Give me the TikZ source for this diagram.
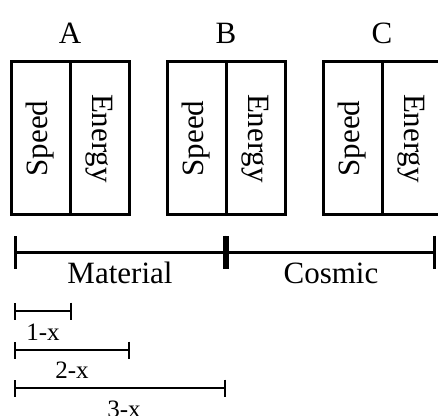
\documentclass[tikz,border=0pt]{standalone}
\usepackage{fontspec}
\setmainfont{Liberation Serif}
\usepackage{tikz}
\usetikzlibrary{arrows.meta, positioning}

\begin{document}
\begin{tikzpicture}[
    x=1pt, y=1pt,
    half/.style={rectangle, draw, line width=3pt, outer sep=0pt, inner sep=0pt,
                minimum height=153pt, minimum width=59pt, align=center,
                font=\fontsize{31}{37}\selectfont},
    lbl/.style={inner sep=0pt, font=\fontsize{31}{37}\selectfont},
    small/.style={inner sep=0pt, font=\fontsize{25}{30}\selectfont},
    bigbar/.style={arrows={Bar[width=33pt]-Bar[width=33pt]}, line width=3pt},
    smallbar/.style={arrows={Bar[width=17pt]-Bar[width=17pt]}, line width=2pt},
]
    \clip (0,0) rectangle (438,415);

    % three boxes, each split in two halves
    \node[half] (speedA) at (40.5,276.5) {\rotatebox{90}{Speed}};
    \node[half, right=0pt of speedA] (energyA) {\rotatebox{-90}{Energy}};

    \node[half, right=38pt of energyA] (speedB) {\rotatebox{90}{Speed}};
    \node[half, right=0pt of speedB] (energyB) {\rotatebox{-90}{Energy}};

    \node[half, right=38pt of energyB] (speedC) {\rotatebox{90}{Speed}};
    \node[half, right=0pt of speedC] (energyC) {\rotatebox{-90}{Energy}};

    \node[lbl, above=18pt of speedA.north east] (labA) {A};
    \node[lbl, above=18pt of speedB.north east] (labB) {B};
    \node[lbl, above=18pt of speedC.north east] (labC) {C};

    % scale
    \coordinate (m0) at (14,163);
    \coordinate (m1) at (226,163);
    \coordinate (m2) at (436,163);

    \draw[bigbar] (m0) -- node[lbl, anchor=base, yshift=-31pt] (material) {Material} (m1);
    \draw[bigbar] (m1) -- node[lbl, anchor=base, yshift=-31pt] (cosmic) {Cosmic} (m2);

    \coordinate (a0) at (14,104);
    \coordinate (a1) at (72,104);
    \coordinate (b0) at (14,65);
    \coordinate (b1) at (130,65);
    \coordinate (c0) at (14,27);
    \coordinate (c1) at (226,27);

    \draw[smallbar] (a0) -- node[small, anchor=base, yshift=-29pt] (onex) {1-x} (a1);
    \draw[smallbar] (b0) -- node[small, anchor=base, yshift=-28pt] (twox) {2-x} (b1);
    \draw[smallbar] (c0) -- node[small, anchor=base, yshift=-29pt, xshift=4pt] (threex) {3-x} (c1);
\end{tikzpicture}
\end{document}
